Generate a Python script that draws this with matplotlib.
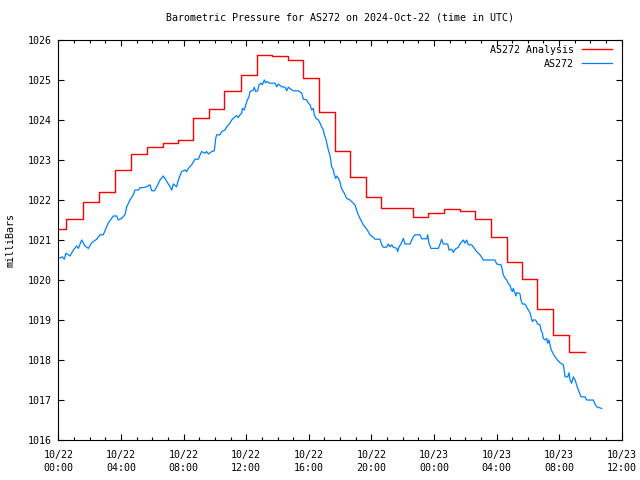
import datetime as dt
import matplotlib
matplotlib.use('Agg')
import matplotlib.pyplot as plt
from matplotlib.ticker import MultipleLocator

plt.rcParams['font.family'] = ['DejaVu Sans Mono']
plt.rcParams['font.size'] = 7.2

# hours since 2024-10-22 00:00 UTC
ana_hours = [0.00, 0.48, 1.59, 2.61, 3.61, 4.63, 5.64, 6.70, 7.66, 8.62, 9.64,
             10.60, 11.65, 12.67, 13.63, 14.65, 15.65, 16.63, 17.66, 18.61,
             19.64, 20.63, 21.64, 22.64, 23.64, 24.62, 25.66, 26.62, 27.63,
             28.65, 29.61, 30.61, 31.59, 32.61, 33.64]
ana_mb = [1021.28, 1021.52, 1021.94, 1022.19, 1022.75, 1023.14, 1023.32,
          1023.42, 1023.49, 1024.04, 1024.27, 1024.72, 1025.13, 1025.63,
          1025.60, 1025.49, 1025.04, 1024.19, 1023.22, 1022.58, 1022.08,
          1021.79, 1021.79, 1021.57, 1021.67, 1021.77, 1021.72, 1021.53,
          1021.07, 1020.44, 1020.02, 1019.28, 1018.62, 1018.19, 1018.19]

obs_hours = [0.00, 0.25, 0.37, 0.48, 0.74, 0.95, 1.16, 1.27, 1.48, 1.69, 1.91,
             2.12, 2.44, 2.65, 2.86, 2.97, 3.18, 3.50, 3.72, 3.82, 4.04, 4.25,
             4.36, 4.57, 4.78, 4.89, 5.10, 5.21, 5.42, 5.64, 5.85, 5.96, 6.13,
             6.28, 6.49, 6.70, 6.92, 7.13, 7.24, 7.34, 7.55, 7.66, 7.87, 8.09,
             8.19, 8.30, 8.51, 8.73, 8.94, 9.05, 9.15, 9.36, 9.47, 9.58, 9.79,
             9.96, 10.05, 10.11, 10.32, 10.43, 10.64, 10.75, 10.96, 11.07,
             11.28, 11.39, 11.49, 11.60, 11.71, 11.75, 11.88, 11.97, 12.07,
             12.18, 12.24, 12.45, 12.52, 12.60, 12.73, 12.82, 12.94, 13.03,
             13.16, 13.24, 13.35, 13.46, 13.84, 13.95, 14.05, 14.27, 14.48,
             14.59, 14.69, 14.91, 15.01, 15.33, 15.55, 15.65, 15.87, 15.97,
             16.08, 16.18, 16.29, 16.35, 16.46, 16.61, 16.72, 16.82, 16.93,
             16.99, 17.08, 17.14, 17.25, 17.36, 17.46, 17.57, 17.63, 17.72,
             17.78, 17.89, 17.99, 18.06, 18.14, 18.27, 18.42, 18.63, 18.74,
             18.95, 19.06, 19.16, 19.27, 19.38, 19.48, 19.59, 19.70, 19.80,
             19.91, 20.12, 20.23, 20.55, 20.66, 20.76, 20.98, 21.08, 21.19,
             21.30, 21.40, 21.62, 21.68, 21.77, 21.89, 22.04, 22.15, 22.47,
             22.58, 22.68, 22.79, 23.11, 23.22, 23.54, 23.60, 23.68, 23.81,
             24.28, 24.39, 24.49, 24.60, 24.88, 24.96, 25.13, 25.24, 25.35,
             25.56, 25.66, 25.88, 25.98, 26.09, 26.20, 26.41, 26.52, 26.62,
             26.73, 26.84, 26.94, 27.05, 27.15, 27.90, 28.01, 28.29, 28.37,
             28.43, 28.54, 28.65, 28.75, 28.86, 28.93, 29.01, 29.07, 29.14,
             29.24, 29.29, 29.39, 29.50, 29.56, 29.65, 29.82, 29.93, 30.03,
             30.14, 30.20, 30.29, 30.35, 30.50, 30.63, 30.78, 30.84, 30.93,
             30.99, 31.10, 31.21, 31.27, 31.35, 31.42, 31.48, 31.63, 31.74,
             31.85, 32.06, 32.27, 32.33, 32.38, 32.55, 32.63, 32.70, 32.80,
             32.91, 33.02, 33.12, 33.19, 33.27, 33.40, 33.66, 33.76, 34.19,
             34.29, 34.40, 34.72]
obs_mb = [1020.54, 1020.58, 1020.52, 1020.67, 1020.60, 1020.75, 1020.85,
          1020.79, 1021.00, 1020.85, 1020.79, 1020.93, 1021.02, 1021.13,
          1021.13, 1021.23, 1021.42, 1021.60, 1021.60, 1021.50, 1021.54,
          1021.63, 1021.83, 1022.00, 1022.13, 1022.25, 1022.25, 1022.31,
          1022.31, 1022.33, 1022.38, 1022.23, 1022.23, 1022.33, 1022.50,
          1022.60, 1022.46, 1022.33, 1022.25, 1022.40, 1022.33, 1022.50,
          1022.71, 1022.75, 1022.71, 1022.79, 1022.88, 1023.02, 1023.02,
          1023.13, 1023.21, 1023.17, 1023.21, 1023.15, 1023.21, 1023.23,
          1023.54, 1023.63, 1023.63, 1023.71, 1023.75, 1023.83, 1023.92,
          1024.00, 1024.08, 1024.11, 1024.06, 1024.13, 1024.17, 1024.29,
          1024.25, 1024.38, 1024.50, 1024.58, 1024.71, 1024.75, 1024.82,
          1024.71, 1024.73, 1024.88, 1024.92, 1024.88, 1025.00, 1024.93,
          1024.96, 1024.92, 1024.92, 1024.83, 1024.90, 1024.83, 1024.82,
          1024.73, 1024.82, 1024.75, 1024.73, 1024.73, 1024.67, 1024.52,
          1024.50, 1024.42, 1024.38, 1024.25, 1024.29, 1024.13, 1024.04,
          1024.00, 1023.92, 1023.83, 1023.75, 1023.63, 1023.54, 1023.44,
          1023.25, 1023.10, 1022.83, 1022.75, 1022.63, 1022.54, 1022.60,
          1022.54, 1022.46, 1022.33, 1022.25, 1022.17, 1022.04, 1022.00,
          1021.96, 1021.88, 1021.75, 1021.63, 1021.54, 1021.46, 1021.38,
          1021.33, 1021.27, 1021.21, 1021.13, 1021.07, 1021.02, 1021.02,
          1020.88, 1020.82, 1020.82, 1020.90, 1020.83, 1020.88, 1020.82,
          1020.79, 1020.71, 1020.83, 1020.90, 1021.04, 1020.90, 1020.90,
          1021.00, 1021.08, 1021.13, 1021.13, 1021.03, 1021.03, 1021.13,
          1020.92, 1020.79, 1020.79, 1020.90, 1021.02, 1020.90, 1020.90,
          1020.75, 1020.77, 1020.69, 1020.77, 1020.82, 1020.90, 1021.00,
          1020.92, 1021.00, 1020.88, 1020.88, 1020.82, 1020.77, 1020.71,
          1020.67, 1020.63, 1020.57, 1020.50, 1020.50, 1020.40, 1020.38,
          1020.25, 1020.13, 1020.05, 1020.00, 1019.91, 1019.87, 1019.77,
          1019.71, 1019.79, 1019.71, 1019.60, 1019.68, 1019.68, 1019.65,
          1019.50, 1019.40, 1019.40, 1019.32, 1019.25, 1019.18, 1019.08,
          1018.96, 1019.00, 1019.00, 1018.90, 1018.88, 1018.75, 1018.67,
          1018.54, 1018.50, 1018.54, 1018.42, 1018.50, 1018.38, 1018.27,
          1018.15, 1018.08, 1018.02, 1017.93, 1017.88, 1017.73, 1017.58,
          1017.58, 1017.68, 1017.50, 1017.42, 1017.58, 1017.50, 1017.38,
          1017.29, 1017.21, 1017.08, 1017.08, 1017.00, 1017.00, 1016.90,
          1016.83, 1016.79]

start = dt.datetime(2024, 10, 22)
xticks = list(range(0, 37, 4))
xlabels = [(start + dt.timedelta(hours=h)).strftime('%m/%d\n%H:%M') for h in xticks]

fig = plt.figure(figsize=(6.4, 4.8), dpi=100)
ax = fig.add_axes([0.0914, 0.0833, 0.88, 0.8334])

ax.plot(ana_hours, ana_mb, color='#ff0000', lw=1.0, drawstyle='steps-post',
        label='AS272 Analysis')
ax.plot(obs_hours, obs_mb, color='#0080ff', lw=0.9, label='AS272')

ax.set_xlim(0, 36)
ax.set_ylim(1016, 1026)
ax.set_xticks(xticks)
ax.set_xticklabels(xlabels, linespacing=1.35)
ax.xaxis.set_minor_locator(MultipleLocator(1))
ax.yaxis.set_major_locator(MultipleLocator(1))
ax.tick_params(which='both', direction='in', top=True, right=True, width=0.8)
ax.tick_params(which='major', length=4)
ax.tick_params(which='minor', length=2)
ax.tick_params(axis='x', pad=7)
ax.tick_params(axis='y', pad=5)
for s in ax.spines.values():
    s.set_linewidth(0.8)

ax.set_ylabel('milliBars', labelpad=9)
ax.set_title('Barometric Pressure for AS272 on 2024-Oct-22 (time in UTC)',
             fontsize=7.2, pad=14)
ax.legend(loc='upper right', bbox_to_anchor=(0.9897, 0.998), frameon=False,
          markerfirst=False, handlelength=3.0, borderaxespad=0, labelspacing=0.4,
          handletextpad=0.8)

fig.savefig('out.png', dpi=100)
